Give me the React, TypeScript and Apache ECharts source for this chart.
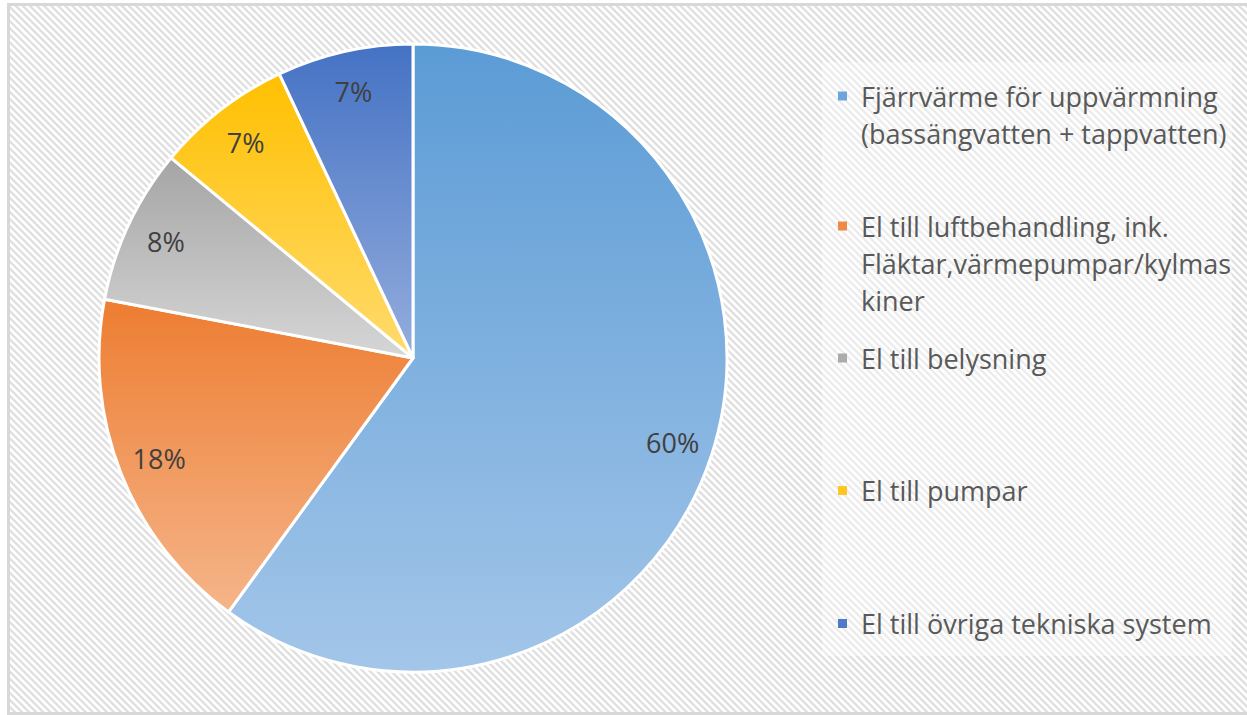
import React, { useEffect, useRef } from 'react';
import * as echarts from 'echarts';

// ---- data ----
const categories: string[] = [
  'Fjärrvärme för uppvärmning (bassängvatten + tappvatten)',
  'El till luftbehandling, ink. Fläktar,värmepumpar/kylmaskiner',
  'El till belysning',
  'El till pumpar',
  'El till övriga tekniska system',
];
const legendLines: string[][] = [
  ['Fjärrvärme för uppvärmning', '(bassängvatten + tappvatten)'],
  ['El till luftbehandling, ink.', 'Fläktar,värmepumpar/kylmas', 'kiner'],
  ['El till belysning'],
  ['El till pumpar'],
  ['El till övriga tekniska system'],
];
const values: number[] = [60, 18, 8, 7, 7];

// ---- styles ----
const colorTop = ['#5B9BD5', '#ED7D31', '#A5A5A5', '#FFC000', '#4472C4'];
const colorBottom = ['#A3C6E9', '#F5B58A', '#D6D6D6', '#FFDB6E', '#94ADDD'];
const markerColor = ['#6BA5DC', '#EE8A45', '#ABABAB', '#FFC520', '#5079C8'];
const legendLineCenters = [96, 226, 358, 490.5, 623.5];
const FONT = "'Open Sans', 'Noto Sans', sans-serif";
const LH = 37;

export default function App() {
  const ref = useRef<HTMLDivElement>(null);

  useEffect(() => {
    if (!ref.current) return;
    const chart = echarts.init(ref.current, undefined, { renderer: 'svg' });

    const grad = (i: number) =>
      new echarts.graphic.LinearGradient(0, 0, 0, 1, [
        { offset: 0, color: colorTop[i] },
        { offset: 1, color: colorBottom[i] },
      ]);

    const data = categories.map((name, i) => ({
      name,
      value: values[i],
      itemStyle: { color: grad(i) },
    }));

    const legends = legendLines.map((lines, i) => ({
      data: [categories[i]],
      left: 832,
      top: legendLineCenters[i] - LH / 2,
      orient: 'vertical',
      icon: 'rect',
      itemWidth: 0,
      itemHeight: 0,
      itemStyle: { opacity: 0 },
      padding: 0,
      selectedMode: false,
      formatter: () =>
        lines
          .map((l, j) => (j === 0 ? `{m| }{g| }{t|${l}}` : `{s| }{t|${l}}`))
          .join('\n'),
      textStyle: {
        fontFamily: FONT,
        fontSize: 27,
        lineHeight: LH,
        color: '#595959',
        rich: {
          m: {
            width: 9,
            height: 9,
            backgroundColor: markerColor[i],
            verticalAlign: 'middle',
            fontSize: 1,
          },
          g: { width: 14, fontSize: 1 },
          s: { width: 23, fontSize: 1 },
          t: {
            fontFamily: FONT,
            fontSize: 27,
            lineHeight: LH,
            color: '#595959',
            verticalAlign: 'middle',
          },
        },
      },
    }));

    chart.setOption({
      animation: false,
      backgroundColor: 'transparent',
      legend: legends,
      graphic: [
        {
          type: 'rect',
          z: -10,
          silent: true,
          shape: { x: 822, y: 62, width: 410, height: 594 },
          style: { fill: 'rgba(255,255,255,0.4)' },
        },
      ],
      series: [
        {
          type: 'pie',
          center: [413, 358],
          radius: 314,
          startAngle: 90,
          clockwise: true,
          data,
          label: { show: false },
          labelLine: { show: false },
          itemStyle: { borderColor: '#ffffff', borderWidth: 3 },
          emphasis: { disabled: true },
        },
        {
          type: 'pie',
          center: [413, 358],
          radius: [226, 314],
          startAngle: 90,
          clockwise: true,
          silent: true,
          data: categories.map((name, i) => ({ name, value: values[i] })),
          itemStyle: { color: 'rgba(0,0,0,0)', borderWidth: 0 },
          labelLine: { show: false },
          emphasis: { disabled: true },
          label: {
            show: true,
            position: 'inside',
            formatter: (p: any) => p.value + '%',
            fontFamily: FONT,
            fontSize: 27,
            color: '#404040',
          },
        },
      ],
    });

    return () => chart.dispose();
  }, []);

  return (
    <div
      style={{
        position: 'fixed',
        left: 0,
        top: 0,
        width: 1247,
        height: 715,
        background: '#ffffff',
        overflow: 'hidden',
      }}
    >
      <div
        style={{
          position: 'absolute',
          left: 7,
          top: 3,
          width: 1260,
          height: 712,
          boxSizing: 'border-box',
          border: '3px solid #D8D8D8',
          background:
            'repeating-linear-gradient(45deg, #ffffff 0px, #ffffff 1.8px, #e0e0e0 2.6px, #e0e0e0 4.2px, #ffffff 5px)',
        }}
      />
      <div
        ref={ref}
        style={{ position: 'absolute', left: 0, top: 0, width: 1247, height: 715 }}
      />
    </div>
  );
}
